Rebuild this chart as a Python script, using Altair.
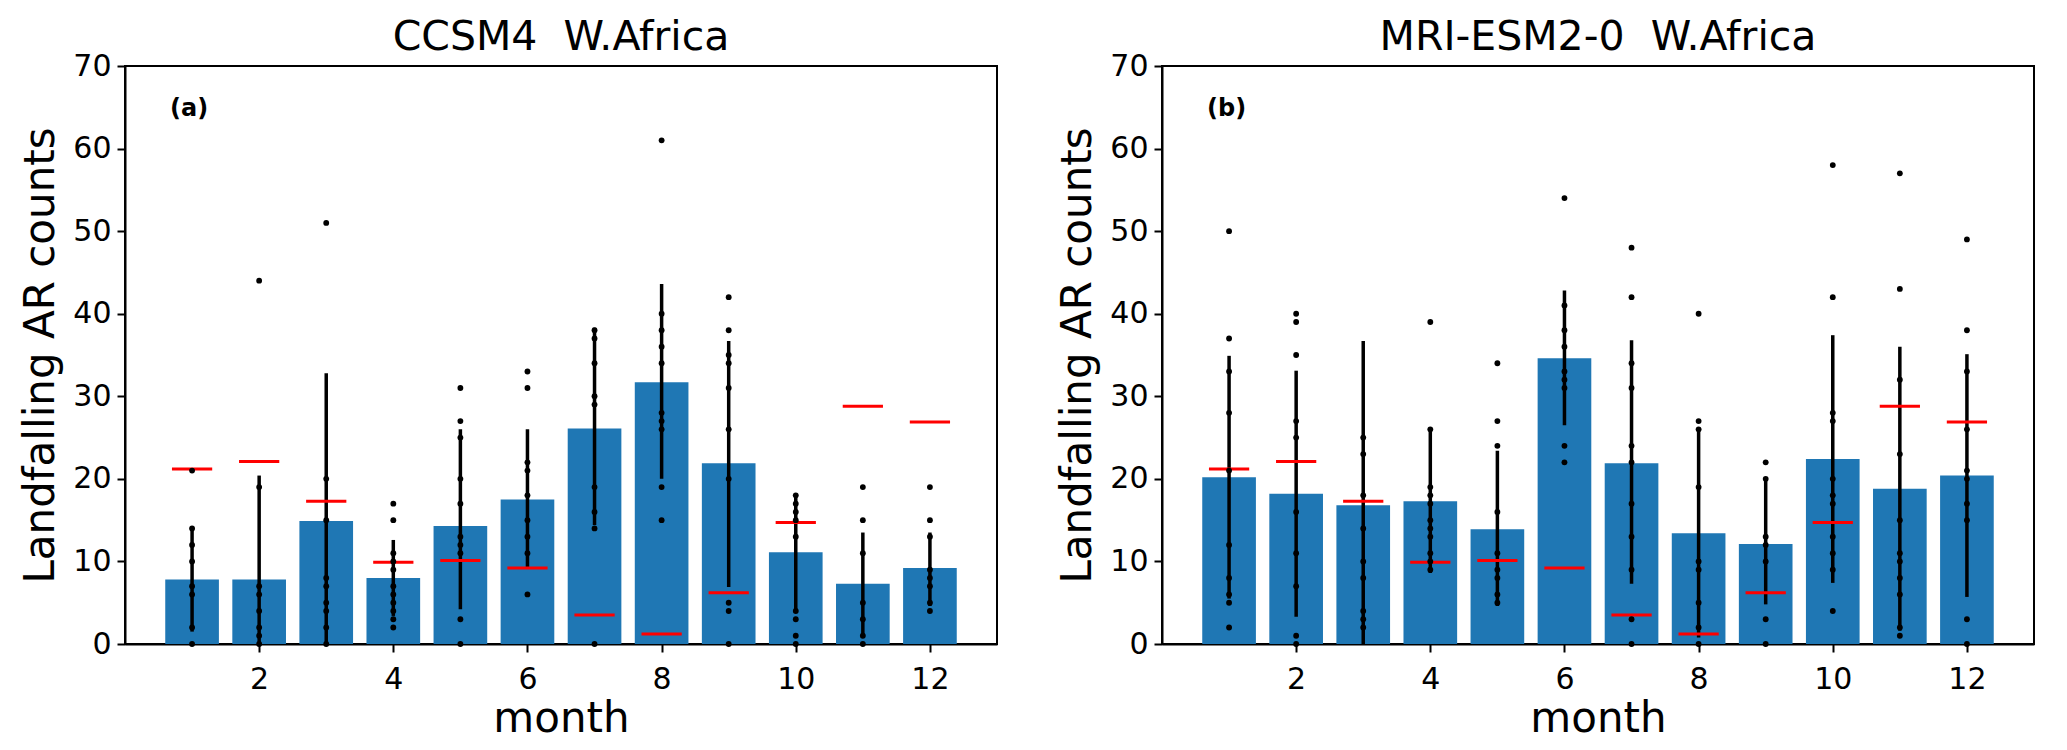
import altair as alt
import pandas as pd

months = list(range(1, 13))
x_ticks = [2, 4, 6, 8, 10, 12]
y_ticks = [0, 10, 20, 30, 40, 50, 60, 70]

# observed reference (red dashes), same in both panels
obs = [21.2, 22.1, 17.3, 9.9, 10.1, 9.2, 3.5, 1.2, 6.2, 14.7, 28.8, 26.9]

# panel (a) CCSM4
mean_a = [7.8, 7.8, 14.9, 8.0, 14.3, 17.5, 26.1, 31.7, 21.9, 11.1, 7.3, 9.2]
lo_a = [1.5, 0.0, 0.0, 3.4, 4.2, 9.2, 14.4, 20.0, 6.9, 4.0, 1.1, 4.6]
hi_a = [14.1, 20.4, 32.8, 12.6, 26.0, 26.0, 38.3, 43.6, 36.7, 18.2, 13.5, 13.5]
dots_a = [
    [21, 14, 12, 10, 7, 6, 2, 0],
    [44, 19, 7, 6, 4, 2, 1, 0],
    [51, 20, 15, 8, 7, 5, 4, 2, 0],
    [17, 15, 11, 10, 9, 7, 6, 5, 4, 3, 2],
    [31, 27, 25, 20, 17, 13, 12, 11, 3, 0],
    [33, 31, 22, 21, 18, 15, 13, 11, 6],
    [38, 37, 34, 30, 29, 19, 16, 14, 0],
    [61, 40, 38, 36, 34, 28, 27, 26, 19, 15],
    [42, 38, 35, 34, 31, 26, 20, 5, 4, 0],
    [18, 17, 16, 15, 13, 4, 3, 1, 0],
    [19, 15, 11, 5, 3, 1, 0],
    [19, 15, 13, 9, 8, 7, 5, 4],
]

# panel (b) MRI-ESM2-0
mean_b = [20.2, 18.2, 16.8, 17.3, 13.9, 34.6, 21.9, 13.4, 12.1, 22.4, 18.8, 20.4]
lo_b = [5.5, 3.3, 0.0, 8.6, 4.6, 26.5, 7.3, 0.8, 4.8, 7.4, 1.6, 5.7]
hi_b = [34.9, 33.1, 36.7, 26.0, 23.4, 42.8, 36.8, 26.0, 20.2, 37.4, 36.0, 35.1]
dots_b = [
    [50, 37, 33, 28, 21, 12, 8, 6, 5, 2],
    [40, 39, 35, 27, 25, 16, 11, 7, 1, 0],
    [25, 23, 18, 14, 10, 8, 4, 3, 2],
    [39, 26, 19, 18, 17, 15, 14, 13, 11, 10, 9],
    [34, 27, 24, 16, 11, 9, 8, 6, 5],
    [54, 41, 38, 36, 33, 32, 31, 24, 22],
    [48, 42, 34, 31, 24, 22, 17, 13, 9, 3, 0],
    [40, 27, 26, 19, 10, 9, 5, 2, 0],
    [22, 20, 13, 12, 10, 3, 0],
    [58, 42, 28, 27, 20, 18, 17, 13, 11, 9, 4],
    [57, 43, 32, 23, 15, 11, 10, 8, 6, 2, 1],
    [49, 38, 33, 26, 21, 20, 17, 15, 3, 0],
]

FONT = "DejaVu Sans"
W, H = 872, 578


def panel(title, tag, mean, lo, hi, dots):
    df = pd.DataFrame({"month": months, "mean": mean, "lo": lo, "hi": hi, "obs": obs})
    dd = pd.DataFrame(
        [(m, v) for m, vals in zip(months, dots) for v in vals], columns=["month", "count"]
    )
    xs = alt.Scale(domain=[0, 13], nice=False, zero=False)
    ys = alt.Scale(domain=[0, 70], nice=False)
    xax = alt.Axis(values=x_ticks, title="month", format="d", labelPadding=12, titlePadding=4)
    yax = alt.Axis(values=y_ticks, title="Landfalling AR counts", format="d", labelPadding=6, titlePadding=10)

    base = alt.Chart(df)
    bars = base.transform_calculate(
        x0="datum.month - 0.4", x1="datum.month + 0.4", zero="0"
    ).mark_rect(color="#1f77b4").encode(
        x=alt.X("x0:Q", scale=xs, axis=xax),
        x2="x1:Q",
        y=alt.Y("mean:Q", scale=ys, axis=yax),
        y2="zero:Q",
    )
    err = base.mark_rule(color="black", strokeWidth=3.5).encode(
        x=alt.X("month:Q", scale=xs),
        y=alt.Y("lo:Q", scale=ys),
        y2="hi:Q",
    )
    red = base.transform_calculate(
        r0="datum.month - 0.3", r1="datum.month + 0.3"
    ).mark_rule(color="#ff0000", strokeWidth=3).encode(
        x=alt.X("r0:Q", scale=xs),
        x2="r1:Q",
        y=alt.Y("obs:Q", scale=ys),
    )
    pts = alt.Chart(dd).mark_circle(color="black", opacity=1, size=34).encode(
        x=alt.X("month:Q", scale=xs),
        y=alt.Y("count:Q", scale=ys),
    )
    lab = alt.Chart(pd.DataFrame({"t": [tag]})).mark_text(
        font=FONT, fontSize=24, fontWeight="bold", align="left", baseline="middle", color="black"
    ).encode(text="t:N", x=alt.value(45), y=alt.value(43))

    return alt.layer(bars, err, red, pts, lab).properties(
        width=W,
        height=H,
        title=alt.TitleParams(title, fontSize=41, font=FONT, fontWeight="normal", offset=-8, color="black"),
    )


left = panel("CCSM4\u00a0\u00a0W.Africa", "(a)", mean_a, lo_a, hi_a, dots_a)
right = panel("MRI-ESM2-0\u00a0\u00a0W.Africa", "(b)", mean_b, lo_b, hi_b, dots_b)

chart = alt.hconcat(left, right, spacing=57).configure(
    font=FONT, padding={"left": 10, "top": 8, "right": 5, "bottom": 5}
).configure_axis(
    labelFont=FONT,
    titleFont=FONT,
    labelFontSize=30,
    titleFontSize=42,
    titleFontWeight="normal",
    labelColor="black",
    titleColor="black",
    domainColor="black",
    tickColor="black",
    domainWidth=2,
    tickWidth=2,
    tickSize=8,
    grid=False,
).configure_view(stroke="black", strokeWidth=2)

chart.save("out.html", embed_options={"renderer": "svg", "actions": False})
